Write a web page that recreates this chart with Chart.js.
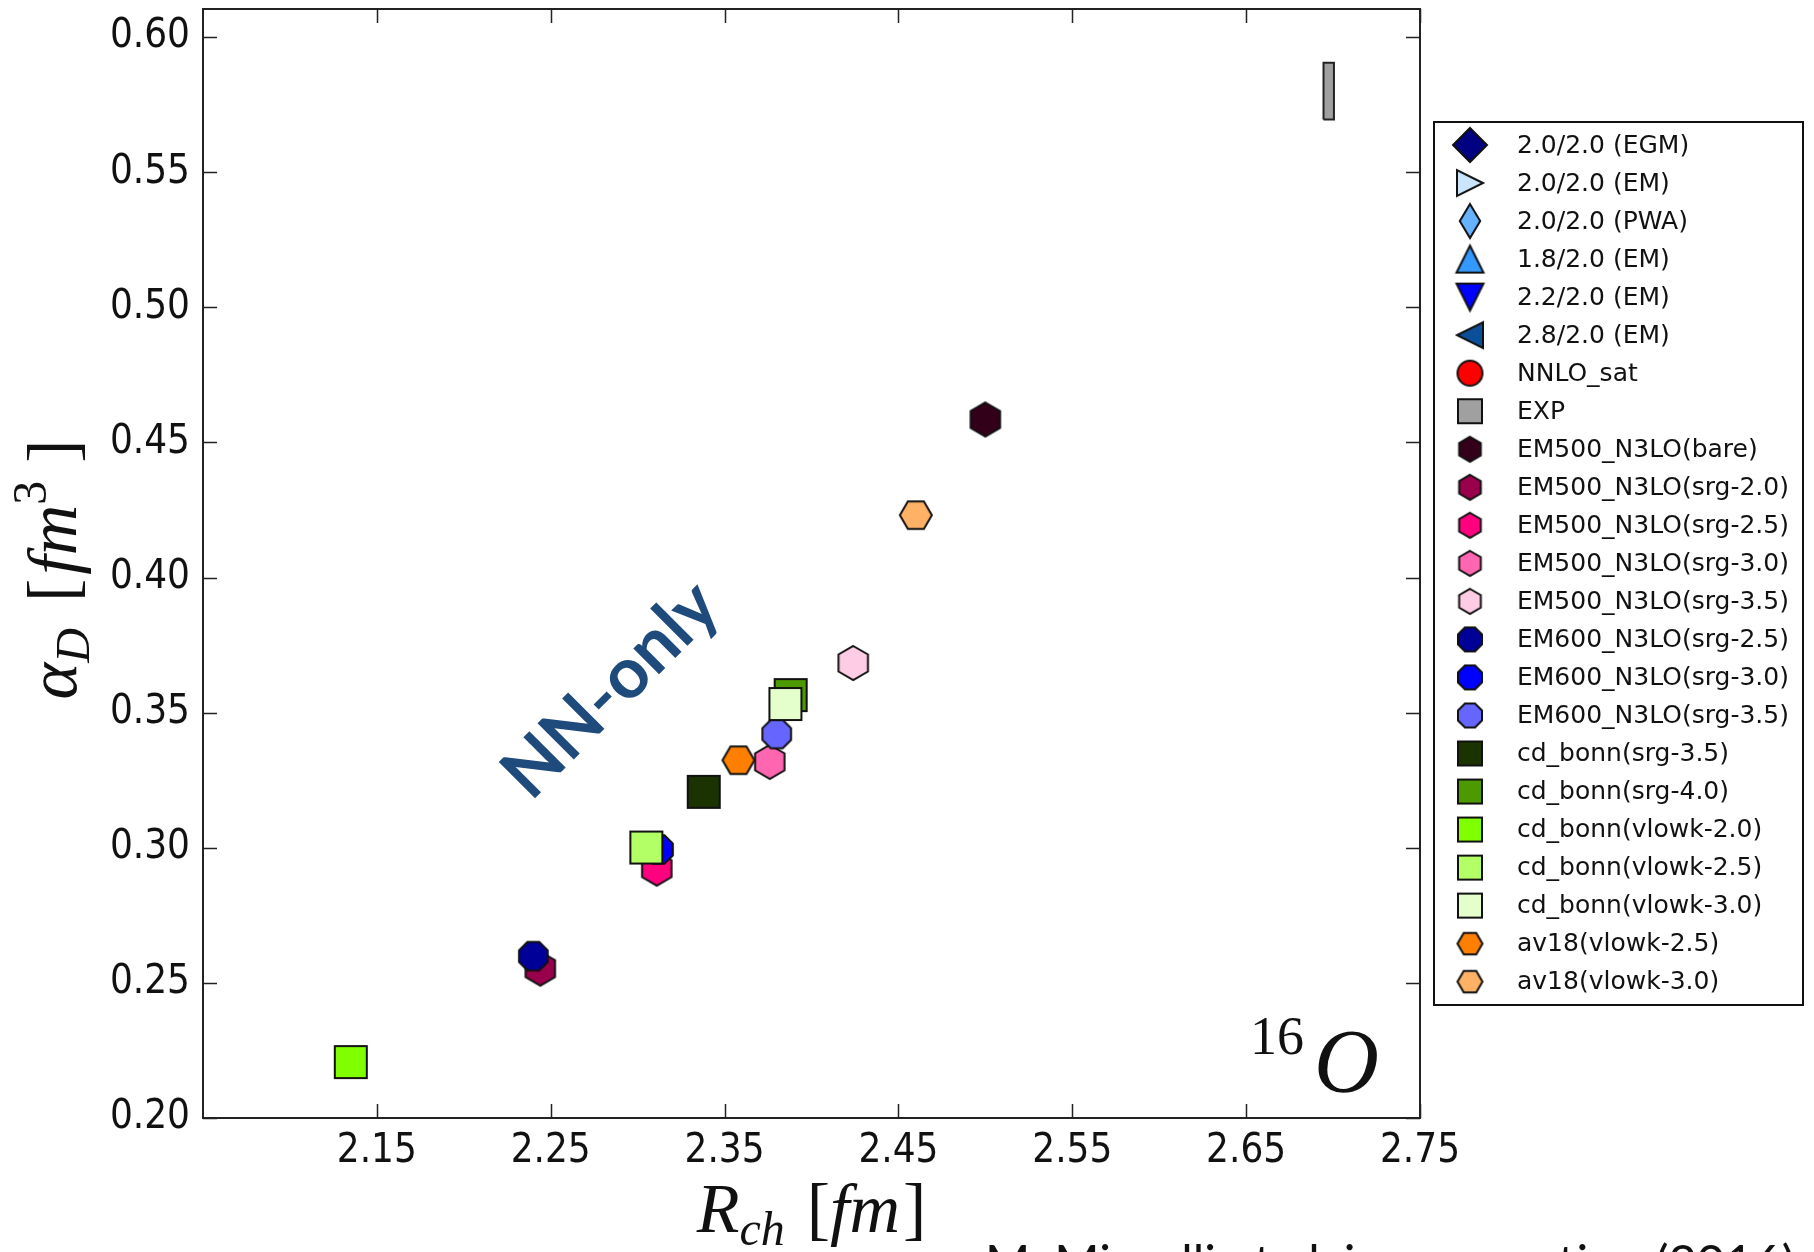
<!DOCTYPE html>
<html>
<head>
<meta charset="utf-8">
<script src="https://cdn.jsdelivr.net/npm/chart.js@4.4.0/dist/chart.umd.min.js"></script>
<style>
html, body { margin: 0; padding: 0; background: #fff; }
</style>
</head>
<body>
<canvas id="grafico" width="1814" height="1252"></canvas>
<script>
// interactions in the legend order
const labels = [
    '2.0/2.0 (EGM)', '2.0/2.0 (EM)', '2.0/2.0 (PWA)', '1.8/2.0 (EM)', '2.2/2.0 (EM)', '2.8/2.0 (EM)',
    'NNLO_sat', 'EXP',
    'EM500_N3LO(bare)', 'EM500_N3LO(srg-2.0)', 'EM500_N3LO(srg-2.5)', 'EM500_N3LO(srg-3.0)', 'EM500_N3LO(srg-3.5)',
    'EM600_N3LO(srg-2.5)', 'EM600_N3LO(srg-3.0)', 'EM600_N3LO(srg-3.5)',
    'cd_bonn(srg-3.5)', 'cd_bonn(srg-4.0)', 'cd_bonn(vlowk-2.0)', 'cd_bonn(vlowk-2.5)', 'cd_bonn(vlowk-3.0)',
    'av18(vlowk-2.5)', 'av18(vlowk-3.0)'
];
// R_ch [fm]
const rch = [
    null, null, null, null, null, null,
    null, null,
    2.500, 2.244, 2.311, 2.376, 2.424,
    2.240, 2.312, 2.380,
    2.338, 2.388, 2.135, 2.305, 2.385,
    2.358, 2.460
];
// alpha_D [fm^3]
const alphaD = [
    null, null, null, null, null, null,
    null, null,
    0.4585, 0.2553, 0.2923, 0.3318, 0.3684,
    0.2599, 0.2994, 0.3421,
    0.3207, 0.3565, 0.2207, 0.3001, 0.3532,
    0.3324, 0.4231
];
// experimental band
const expRch = [2.6945, 2.7005];
const expAlphaD = [0.5695, 0.5905];

const xTicks = [2.15, 2.25, 2.35, 2.45, 2.55, 2.65, 2.75];
const yTicks = [0.20, 0.25, 0.30, 0.35, 0.40, 0.45, 0.50, 0.55, 0.60];

const colors = [
    '#000080', '#cce5ff', '#66b2ff', '#3399ff', '#0000ff', '#0b4f99',
    '#ff0000', '#a0a0a0',
    '#33001a', '#99004c', '#ff007f', '#ff66b2', '#ffcce5',
    '#000099', '#0000ff', '#6666ff',
    '#1a3300', '#4c9900', '#80ff00', '#b2ff66', '#e5ffcc',
    '#ff8000', '#ffb266'
];
const shapes = [
    'D', '>', 'd', '^', 'v', '<',
    'o', 's',
    'h', 'h', 'h', 'h', 'h',
    '8', '8', '8',
    's', 's', 's', 's', 's',
    'H', 'H'
];

function marker(shape, color, size) {
    const w = Math.ceil(size) + 6;
    const c = document.createElement('canvas');
    c.width = w; c.height = w;
    const g = c.getContext('2d');
    g.translate(w / 2, w / 2);
    const r = size / 2;
    const poly = pts => { g.moveTo(pts[0][0], pts[0][1]); pts.slice(1).forEach(p => g.lineTo(p[0], p[1])); };
    const ngon = (n, start) => {
        const pts = [];
        for (let k = 0; k < n; k++) {
            const a = start + k * 2 * Math.PI / n;
            pts.push([r * Math.cos(a), r * Math.sin(a)]);
        }
        poly(pts);
    };
    g.beginPath();
    if (shape === 'D') poly([[0, -r], [r, 0], [0, r], [-r, 0]]);
    else if (shape === 'd') poly([[0, -r], [0.6 * r, 0], [0, r], [-0.6 * r, 0]]);
    else if (shape === '>') poly([[r, 0], [-r, -r], [-r, r]]);
    else if (shape === '<') poly([[-r, 0], [r, -r], [r, r]]);
    else if (shape === '^') poly([[0, -r], [r, r], [-r, r]]);
    else if (shape === 'v') poly([[0, r], [r, -r], [-r, -r]]);
    else if (shape === 'o') g.arc(0, 0, r, 0, Math.PI * 2);
    else if (shape === 's') poly([[-r, -r], [r, -r], [r, r], [-r, r]]);
    else if (shape === 'h') ngon(6, -Math.PI / 2);
    else if (shape === 'H') ngon(6, 0);
    else if (shape === '8') ngon(8, Math.PI / 8);
    g.closePath();
    g.fillStyle = color;
    g.fill();
    g.lineWidth = 2;
    g.strokeStyle = '#111';
    g.stroke();
    return c;
}

const plotSize = { s: 32, h: 34, H: 32, '8': 31 };
const legendSize = { D: 34, d: 34, '>': 26, '<': 26, '^': 27, 'v': 27, o: 25, s: 24, h: 25, H: 25, '8': 26 };

const datasets = labels.map((name, i) => ({
    label: name,
    data: rch[i] == null ? [] : [{ x: rch[i], y: alphaD[i] }],
    pointStyle: marker(shapes[i], colors[i], plotSize[shapes[i]] || 30),
    order: labels.length - i
}));

// EXP drawn as a filled box from its ranges
datasets.push({
    label: 'EXP band',
    data: [
        { x: expRch[0], y: expAlphaD[0] }, { x: expRch[1], y: expAlphaD[0] },
        { x: expRch[1], y: expAlphaD[1] }, { x: expRch[0], y: expAlphaD[1] },
        { x: expRch[0], y: expAlphaD[0] }
    ],
    showLine: true,
    fill: 'shape',
    backgroundColor: colors[7],
    borderColor: '#222',
    borderWidth: 2,
    pointRadius: 0,
    order: labels.length + 1
});

function drawRuns(ctx, runs, cx, baseY) {
    let total = 0;
    runs.forEach(r => { ctx.font = r.font; r.w = ctx.measureText(r.t).width; total += r.w + (r.gap || 0); });
    let x = cx - total / 2;
    ctx.textAlign = 'left';
    ctx.textBaseline = 'alphabetic';
    runs.forEach(r => {
        ctx.font = r.font;
        ctx.fillText(r.t, x, baseY + (r.dy || 0));
        x += r.w + (r.gap || 0);
    });
}

const serif = "'Liberation Serif', 'DejaVu Serif', serif";
const it = s => 'italic ' + s + 'px ' + serif;
const up = s => s + 'px ' + serif;

const extras = {
    id: 'extras',
    afterDraw(chart) {
        const ctx = chart.ctx;
        const a = chart.chartArea;
        const xs = chart.scales.x, ys = chart.scales.y;
        ctx.save();

        // frame and inward ticks on all sides
        ctx.strokeStyle = '#222';
        ctx.lineWidth = 2;
        ctx.strokeRect(a.left, a.top, a.right - a.left, a.bottom - a.top);
        const tl = 14;
        ctx.beginPath();
        xTicks.forEach(v => {
            const p = Math.round(xs.getPixelForValue(v)) + 0.5;
            ctx.moveTo(p, a.bottom); ctx.lineTo(p, a.bottom - tl);
            ctx.moveTo(p, a.top); ctx.lineTo(p, a.top + tl);
        });
        yTicks.forEach(v => {
            const p = Math.round(ys.getPixelForValue(v)) + 0.5;
            ctx.moveTo(a.left, p); ctx.lineTo(a.left + tl, p);
            ctx.moveTo(a.right, p); ctx.lineTo(a.right - tl, p);
        });
        ctx.lineWidth = 1.5;
        ctx.stroke();

        // axis titles
        ctx.fillStyle = '#111';
        drawRuns(ctx, [
            { t: 'R', font: it(70) },
            { t: 'ch', font: it(48), dy: 13, gap: 22 },
            { t: '[', font: up(70) },
            { t: 'fm', font: it(70), gap: 3 },
            { t: ']', font: up(70) }
        ], (a.left + a.right) / 2, 1232);

        ctx.save();
        ctx.translate(76, (a.top + a.bottom) / 2 + 6);
        ctx.rotate(-Math.PI / 2);
        drawRuns(ctx, [
            { t: 'α', font: it(70) },
            { t: 'D', font: it(48), dy: 13, gap: 26 },
            { t: '[', font: up(70), gap: 4 },
            { t: 'fm', font: it(70) },
            { t: '3', font: up(48), dy: -30, gap: 18 },
            { t: ']', font: up(70) }
        ], 0, 0);
        ctx.restore();

        // nucleus label
        ctx.textAlign = 'left';
        ctx.textBaseline = 'alphabetic';
        ctx.font = up(54);
        ctx.fillText('16', 1250, 1054);
        ctx.font = it(90);
        ctx.fillText('O', 1314, 1092);

        // NN-only annotation
        ctx.save();
        ctx.translate(611, 690);
        ctx.rotate(-Math.PI / 4);
        ctx.font = "bold 71px Lato, 'Open Sans', sans-serif";
        ctx.textAlign = 'center';
        ctx.textBaseline = 'middle';
        ctx.fillStyle = '#1f4a7c';
        ctx.fillText('NN-only', 0, 0);
        ctx.restore();

        // legend
        const lx = a.right + 14, ly = 122, lw = 369, lh = 883;
        ctx.fillStyle = '#fff';
        ctx.fillRect(lx, ly, lw, lh);
        ctx.strokeStyle = '#111';
        ctx.lineWidth = 2;
        ctx.strokeRect(lx, ly, lw, lh);
        ctx.font = "25px 'DejaVu Sans', sans-serif";
        ctx.textBaseline = 'middle';
        ctx.fillStyle = '#111';
        labels.forEach((name, i) => {
            const y = 145 + i * 38.03;
            const m = marker(shapes[i], colors[i], legendSize[shapes[i]]);
            ctx.drawImage(m, lx + 36 - m.width / 2, y - m.height / 2);
            ctx.fillText(name, lx + 83, y + 1);
        });

        // citation, cut by the bottom edge
        ctx.font = "40px Lato, sans-serif";
        const cite = 'M. Miorelli et al. in preparation (2016)';
        const sz = 40 * 810 / ctx.measureText(cite).width;
        ctx.font = sz + 'px Lato, sans-serif';
        ctx.textBaseline = 'alphabetic';
        ctx.fillText(cite, 985, 1245 + sz * 0.72);

        ctx.restore();
    }
};

const tickFont = { family: "'DejaVu Sans Condensed', 'Liberation Sans', sans-serif", size: 40 };

const ctx = document.getElementById('grafico').getContext('2d');
const grafico = new Chart(ctx, {
    type: 'scatter',
    data: { datasets: datasets },
    plugins: [extras],
    options: {
        responsive: false,
        animation: false,
        events: [],
        layout: { padding: { top: 9, right: 394, left: 0, bottom: 0 } },
        plugins: {
            legend: { display: false },
            tooltip: { enabled: false }
        },
        scales: {
            x: {
                type: 'linear',
                min: 2.05,
                max: 2.75,
                afterBuildTicks: s => { s.ticks = xTicks.map(v => ({ value: v })); },
                afterFit: s => { s.height = 134; s.paddingLeft = 0; s.paddingRight = 0; },
                grid: { display: false, drawTicks: false },
                border: { display: false },
                ticks: {
                    font: tickFont,
                    color: '#111',
                    padding: 10,
                    maxRotation: 0,
                    autoSkip: false,
                    callback: v => v.toFixed(2)
                }
            },
            y: {
                type: 'linear',
                min: 0.20,
                max: 0.6104,
                afterBuildTicks: s => { s.ticks = yTicks.map(v => ({ value: v })); },
                afterFit: s => { s.width = 203; s.paddingTop = 0; s.paddingBottom = 0; },
                grid: { display: false, drawTicks: false },
                border: { display: false },
                ticks: {
                    font: tickFont,
                    color: '#111',
                    padding: 13,
                    autoSkip: false,
                    callback: v => v.toFixed(2)
                }
            }
        }
    }
});
</script>
</body>
</html>
